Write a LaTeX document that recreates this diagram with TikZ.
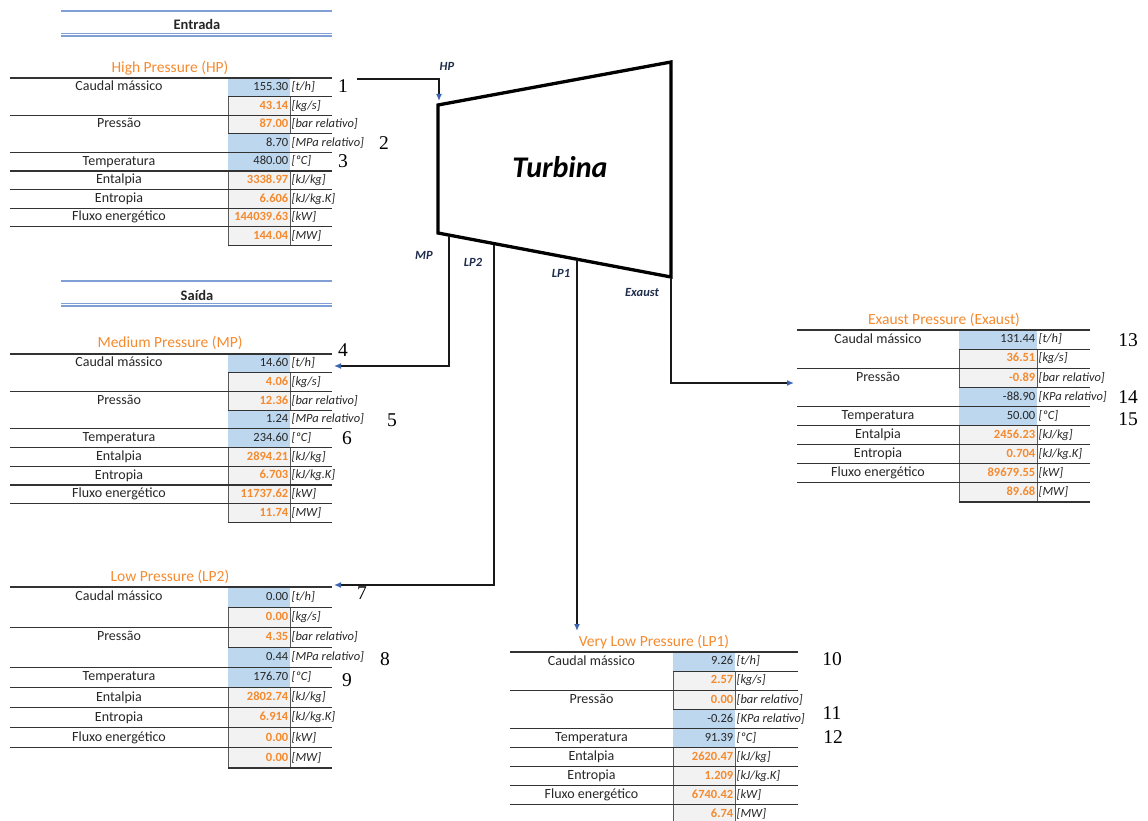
\documentclass[tikz,border=0pt]{standalone}
\usepackage{fontspec}
\setmainfont{Carlito}
\newfontfamily\numfont{Liberation Serif}
\usetikzlibrary{arrows.meta}

\definecolor{celazul}{HTML}{BDD7EE}
\definecolor{celcinza}{HTML}{F2F2F2}
\definecolor{laranja}{HTML}{F58A2E}
\definecolor{linhaazul}{HTML}{7F9FD5}
\definecolor{setaazul}{HTML}{3B64B0}
\definecolor{rotazul}{HTML}{1F2D4D}

\newcommand{\rotulo}[1]{\ifcase#1\or Caudal mássico\or\or Pressão\or\or Temperatura\or Entalpia\or Entropia\or Fluxo energético\or\fi}
\newcommand{\unidade}[2]{[\ifcase#1\or t/h\or kg/s\or bar relativo\or #2 relativo\or ºC\or kJ/kg\or kJ/kg.K\or kW\or MW\fi]}

% #1 name, #2 left, #3 cell left, #4 cell right, #5 right, #6 top, #7 row height, #8 pressure unit, #9 values
\newcommand{\tabela}[9]{%
  \foreach \val [count=\i] in {#9} {
    \pgfmathsetmacro{\ya}{#6+(\i-1)*#7}
    \pgfmathsetmacro{\yb}{#6+\i*#7}
    \pgfmathsetmacro{\ym}{#6+(\i-0.5)*#7}
    \ifcase\i\or\def\azul{1}\or\def\azul{0}\or\def\azul{0}\or\def\azul{1}\or\def\azul{1}\else\def\azul{0}\fi
    \ifnum\azul=1
      \fill[celazul] (#3,\ya) rectangle (#4,\yb);
      \node[valor] (#1-v\i) at (#4,\ym) {\val};
    \else
      \filldraw[fill=celcinza, draw=black!65, line width=0.7pt] (#3,\ya) rectangle (#4,\yb);
      \node[valor, text=laranja, font=\fontsize{12.5}{12.5}\selectfont\bfseries] (#1-v\i) at (#4,\ym) {\val};
    \fi
    \ifcase\i\or\def\parcial{0}\or\def\parcial{1}\or\def\parcial{0}\or\def\parcial{1}\else\def\parcial{0}\fi
    \ifnum\parcial=1
      \draw[linha] (#3,\ya) -- (#5,\ya);
    \else
      \draw[linha] (#2,\ya) -- (#5,\ya);
    \fi
    \node[rotulo] (#1-r\i) at ({(#2+#3)/2},\ym) {\rotulo{\i}};
    \node[unid] (#1-u\i) at (#4,\ym) {\unidade{\i}{#8}};
  }
  \draw[linha] (#3,{#6+9*#7}) -- (#5,{#6+9*#7});
}

\begin{document}
\begin{tikzpicture}[
	x=1pt, y=-1pt,
	linha/.style={draw=black!80, line width=1.2pt},
	valor/.style={anchor=east, inner sep=1.5pt, text height=8.5pt, text depth=2pt, font=\fontsize{12.5}{12.5}\selectfont, text=black!85},
	unid/.style={anchor=west, inner sep=1.5pt, text height=8.5pt, text depth=2pt, font=\fontsize{12.5}{12.5}\selectfont\itshape, text=black!85},
	rotulo/.style={inner sep=0pt, text height=9pt, text depth=2pt, font=\fontsize{14}{14}\selectfont, text=black!85},
	titulo/.style={inner sep=0pt, font=\fontsize{15.5}{16}\selectfont, text=laranja},
	cabec/.style={inner sep=0pt, font=\fontsize{14.5}{15}\selectfont\bfseries, text=black!85},
	cabline/.style={draw=linhaazul, line width=1.2pt},
	numero/.style={inner sep=0pt, font=\numfont\fontsize{19.5}{20}\selectfont},
	saida/.style={inner sep=0pt, font=\fontsize{12.5}{12.5}\selectfont\bfseries\itshape, text=rotazul},
	seta/.style={draw=black!90, line width=1.6pt, -{Latex[length=7pt,width=6pt,color=setaazul]}},
]
\useasboundingbox (0,0) rectangle (1148,821);

% cabecalhos
\draw[cabline] (61,11) -- (332,11);
\node[cabec] (entrada) at (197,24) {Entrada};
\draw[cabline] (61,33.2) -- (332,33.2);
\draw[cabline] (61,36) -- (332,36);
\draw[cabline] (61,281) -- (332,281);
\node[cabec] (saida) at (197,295) {Saída};
\draw[cabline] (61,303.2) -- (332,303.2);
\draw[cabline] (61,306) -- (332,306);

% tabelas
\node[titulo] (tHP) at (170,68) {High Pressure (HP)};
\tabela{hp}{10}{228}{290}{332}{78}{18.6}{MPa}{155.30,43.14,87.00,8.70,480.00,3338.97,6.606,144039.63,144.04}
\node[titulo] (tMP) at (170,343) {Medium Pressure (MP)};
\tabela{mp}{10}{228}{290}{332}{354}{18.7}{MPa}{14.60,4.06,12.36,1.24,234.60,2894.21,6.703,11737.62,11.74}
\node[titulo] (tLP2) at (170,577) {Low Pressure (LP2)};
\tabela{lpb}{10}{228}{290}{332}{587}{20.1}{MPa}{0.00,0.00,4.35,0.44,176.70,2802.74,6.914,0.00,0.00}
\node[titulo] (tLP1) at (654,642) {Very Low Pressure (LP1)};
\tabela{lpa}{510}{673}{735}{798}{652}{19.1}{KPa}{9.26,2.57,0.00,-0.26,91.39,2620.47,1.209,6740.42,6.74}
\node[titulo] (tEX) at (944,320) {Exaust Pressure (Exaust)};
\tabela{ex}{797}{959}{1037}{1090}{330}{19.1}{KPa}{131.44,36.51,-0.89,-88.90,50.00,2456.23,0.704,89679.55,89.68}

% turbina
\draw[line width=3.3pt, line join=miter] (438,105) -- (671,62) -- (671,277) -- (438,233) -- cycle;
\node[inner sep=0pt, font=\fontsize{30}{30}\selectfont\bfseries\itshape] (turbina) at (560,167) {Turbina};

\coordinate (hpini) at (357,79);
\coordinate (hpfim) at (439,101);
\coordinate (sMP) at (449,236);
\coordinate (eMP) at (334,366);
\coordinate (sLP2) at (494,244.5);
\coordinate (eLP2) at (334,585);
\coordinate (sLP1) at (577,260);
\coordinate (eLP1) at (577,631);
\coordinate (sEX) at (671,278);
\coordinate (eEX) at (794,383);

\draw[seta] (hpini) -| (hpfim);
\draw[seta] (sMP) |- (eMP);
\draw[seta] (sLP2) |- (eLP2);
\draw[seta] (sLP1) -- (eLP1);
\draw[seta] (sEX) |- (eEX);

\node[saida] (lHP) at (447,66) {HP};
\node[saida] (lMP) at (424,255) {MP};
\node[saida] (lLP2) at (473,262) {LP2};
\node[saida] (lLP1) at (561,273) {LP1};
\node[saida] (lEX) at (642,292) {Exaust};

% numeros
\node[numero] (n1) at (343,86) {1};
\node[numero] (n2) at (384,143) {2};
\node[numero] (n3) at (343,161) {3};
\node[numero] (n4) at (343,350) {4};
\node[numero] (n5) at (392,420) {5};
\node[numero] (n6) at (347,438) {6};
\node[numero] (n7) at (362,593) {7};
\node[numero] (n8) at (385,659) {8};
\node[numero] (n9) at (347,680) {9};
\node[numero] (n10) at (832,659) {10};
\node[numero] (n11) at (832,713) {11};
\node[numero] (n12) at (833,737) {12};
\node[numero] (n13) at (1128,340) {13};
\node[numero] (n14) at (1128,397) {14};
\node[numero] (n15) at (1128,419) {15};
\end{tikzpicture}
\end{document}
